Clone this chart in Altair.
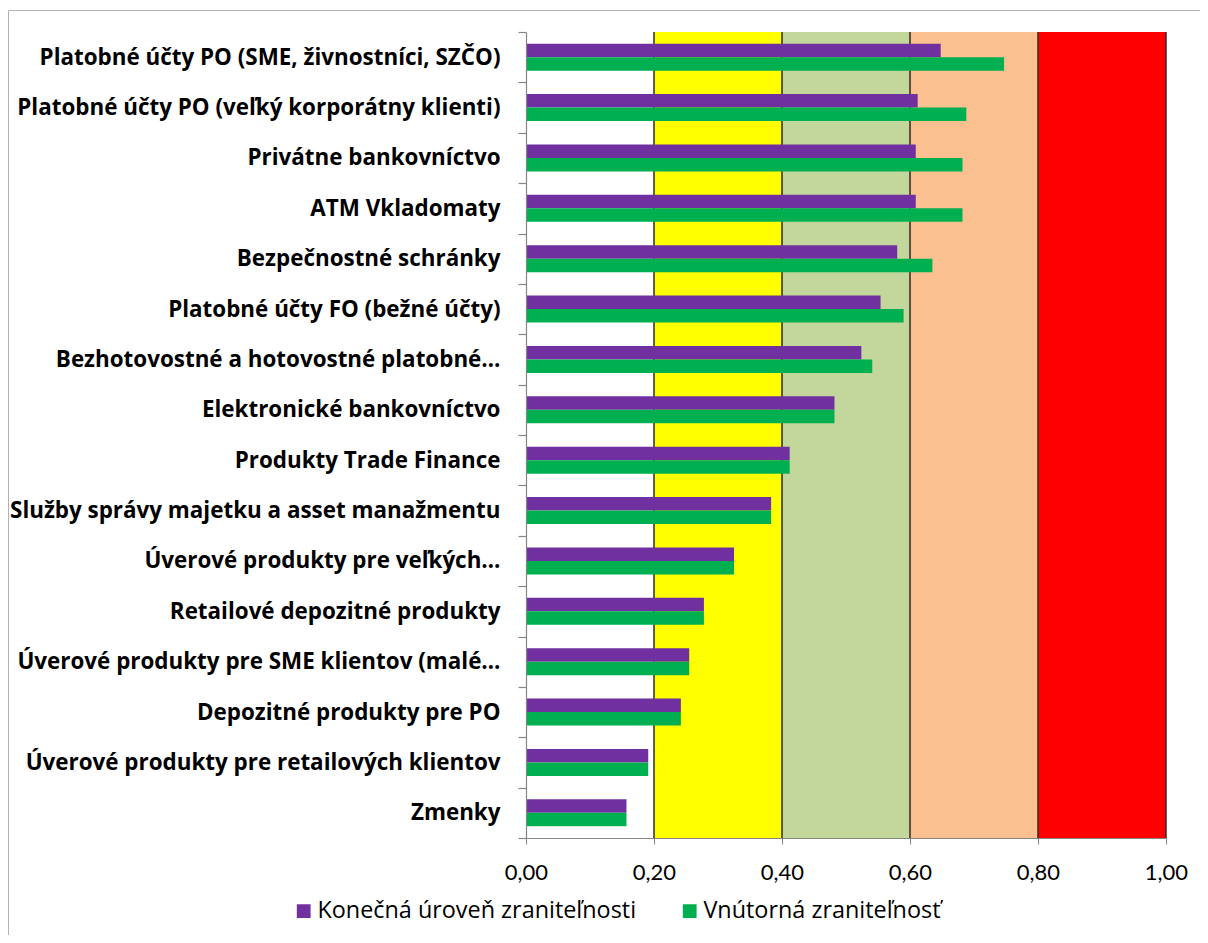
import altair as alt
import pandas as pd

categories = [
    "Platobné účty PO (SME, živnostníci, SZČO)",
    "Platobné účty PO (veľký korporátny klienti)",
    "Privátne bankovníctvo",
    "ATM Vkladomaty",
    "Bezpečnostné schránky",
    "Platobné účty FO (bežné účty)",
    "Bezhotovostné a hotovostné platobné…",
    "Elektronické bankovníctvo",
    "Produkty Trade Finance",
    "Služby správy majetku a asset manažmentu",
    "Úverové produkty pre veľkých…",
    "Retailové depozitné produkty",
    "Úverové produkty pre SME klientov (malé…",
    "Depozitné produkty pre PO",
    "Úverové produkty pre retailových klientov",
    "Zmenky",
]
konecna = [0.648, 0.612, 0.609, 0.609, 0.580, 0.554, 0.524, 0.482,
           0.412, 0.383, 0.325, 0.278, 0.255, 0.242, 0.191, 0.157]
vnutorna = [0.747, 0.688, 0.682, 0.682, 0.635, 0.590, 0.541, 0.482,
            0.412, 0.383, 0.325, 0.278, 0.255, 0.242, 0.191, 0.157]
series_names = ["Konečná úroveň zraniteľnosti", "Vnútorná zraniteľnosť"]
series_colors = ["#7030A0", "#00B050"]
band_starts = [0.2, 0.4, 0.6, 0.8]
band_ends = [0.4, 0.6, 0.8, 1.0]
band_colors = ["#FFFF00", "#C3D69B", "#FAC090", "#FF0000"]
threshold_lines = [0.2, 0.4, 0.6, 0.8, 1.0]
tick_values = [0.0, 0.2, 0.4, 0.6, 0.8, 1.0]

rows = []
for c, a, b in zip(categories, konecna, vnutorna):
    rows.append({"category": c, "series": series_names[0], "value": a})
    rows.append({"category": c, "series": series_names[1], "value": b})
df = pd.DataFrame(rows)
bands = pd.DataFrame({"start": band_starts, "end": band_ends, "color": band_colors})
lines = pd.DataFrame({"x": threshold_lines})

xscale = alt.Scale(domain=[0, 1], nice=False, zero=True)
yscale = alt.Scale(paddingInner=0, paddingOuter=0)
xaxis = alt.Axis(
    values=tick_values,
    labelExpr="replace(format(datum.value, '.2f'), '.', ',')",
    labelFont="Lato", labelFontSize=22, labelColor="#000000",
    labelPadding=18, tickSize=6, tickColor="#868686", labelFlush=False,
    domainColor="#868686", domainWidth=1.2, grid=False, zindex=1,
)
yaxis = alt.Axis(
    labelFont="Open Sans", labelFontSize=22.4, labelFontWeight="bold",
    labelColor="#000000", labelLimit=0, labelPadding=18,
    ticks=True, tickSize=8, tickBand="extent", tickColor="#868686",
    tickWidth=1.2, domainColor="#868686", domainWidth=1.2,
    grid=False, zindex=1,
)

frame = alt.Chart(pd.DataFrame({"d": [0]})).mark_rect(
    fill=None, stroke="#B3B3B3", strokeWidth=1
).encode(
    x=alt.value(-517.5), x2=alt.value(900), y=alt.value(-21.5), y2=alt.value(1000)
)

band_layer = alt.Chart(bands).mark_rect().encode(
    x=alt.X("start:Q", scale=xscale, axis=xaxis, title=None),
    x2="end:Q",
    fill=alt.Fill("color:N", scale=None),
)

line_layer = alt.Chart(lines).mark_rule(color="#2E2A26", strokeWidth=1.5).encode(
    x=alt.X("x:Q", scale=xscale, axis=xaxis, title=None),
)

bars = alt.Chart(df).mark_bar().encode(
    x=alt.X("value:Q", scale=xscale, title=None, axis=xaxis),
    y=alt.Y("category:N", sort=categories, title=None, scale=yscale, axis=yaxis),
    yOffset=alt.YOffset(
        "series:N", sort=series_names,
        scale=alt.Scale(paddingInner=0, paddingOuter=0.866),
    ),
    color=alt.Color(
        "series:N",
        scale=alt.Scale(domain=series_names, range=series_colors),
        legend=alt.Legend(
            title=None, orient="none", direction="horizontal",
            legendX=-234, legendY=867, symbolType="square", symbolSize=190,
            symbolStrokeWidth=0, labelFont="Open Sans", labelFontSize=23.4,
            labelColor="#000000", labelLimit=0, columnPadding=41,
            symbolOffset=0, labelOffset=2,
        ),
    ),
)

chart = alt.layer(frame, band_layer, line_layer, bars).properties(
    width=640, height=806,
    autosize=alt.AutoSizeParams(type="none"),
    padding={"left": 518, "top": 24, "right": 34, "bottom": 97},
).configure_view(stroke=None)

chart.save("out.html", embed_options={"renderer": "svg", "actions": False})
